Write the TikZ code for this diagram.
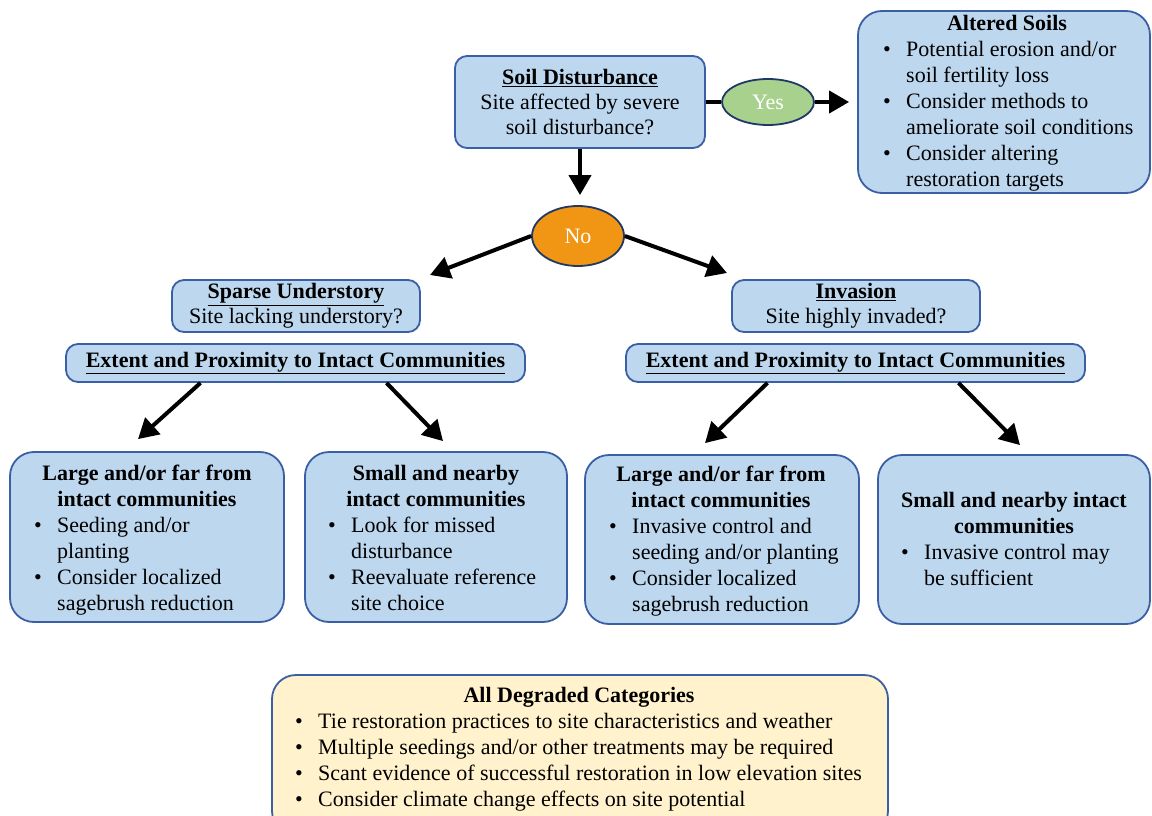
\documentclass[tikz,border=0pt]{standalone}
\usepackage{fontspec}
\setmainfont{Liberation Serif}
\usetikzlibrary{shapes.geometric,arrows.meta,calc}
\definecolor{bfill}{RGB}{189,215,238}
\definecolor{bdraw}{RGB}{58,95,165}
\definecolor{yfill}{RGB}{255,242,204}
\definecolor{gfill}{RGB}{169,209,142}
\definecolor{ofill}{RGB}{240,150,20}
\definecolor{edraw}{RGB}{31,56,100}
\newcommand\fsz{\fontsize{22}{25}\selectfont}
\newcommand\fsl{\fontsize{22}{26}\selectfont}
\newcommand\bt{\makebox[23pt][l]{•}}
\newcommand\ct{\hspace*{23pt}}
\tikzset{
  box/.style={draw=bdraw, fill=bfill, line width=1.8pt, rounded corners=12pt, inner sep=0pt, align=center, font=\fsz},
  bigbox/.style={box, rounded corners=24pt},
  oval/.style={ellipse, draw=edraw, line width=1.8pt, text=white, font=\fsz, inner sep=0pt},
  arr/.style={line width=4pt, -{Triangle[length=20pt,width=22pt]}},
  hd/.style={inner sep=0pt, anchor=base, font=\fsl\bfseries},
  bl/.style={inner sep=0pt, anchor=base west, font=\fsl},
}
\begin{document}
\begin{tikzpicture}[x=1pt,y=-1pt]
\useasboundingbox (0,0) rectangle (1152,816);
% top
\node[box, minimum width=250pt, minimum height=92pt] (sd) at (580,102)
  {\textbf{\underline{Soil Disturbance}}\\Site affected by severe\\soil disturbance?};
\node[oval, fill=gfill, minimum width=92pt, minimum height=46pt] (yes) at (768,102) {Yes};
\node[bigbox, minimum width=292pt, minimum height=182pt] (alt) at (1004,102) {};
\node[hd] (althd) at (1007,31) {Altered Soils};
\node[bl] (altbl) at (883,57) {\begin{tabular}[t]{@{}l@{}}
  \bt Potential erosion and/or\\
  \ct soil fertility loss\\
  \bt Consider methods to\\
  \ct ameliorate soil conditions\\
  \bt Consider altering\\
  \ct restoration targets\end{tabular}};
\draw[line width=4pt] (sd) -- (yes);
\draw[arr, shorten >=8pt] (yes) -- (alt);
\node[oval, fill=ofill, minimum width=92pt, minimum height=60pt] (no) at (578,236) {No};
\draw[arr, shorten >=10pt] (sd.south) -- (sd.south |- no.north);
% second level
\node[box, minimum width=248pt, minimum height=52pt] (su) at (296,306)
  {\textbf{\underline{Sparse Understory}}\\Site lacking understory?};
\node[box, minimum width=248pt, minimum height=52pt] (inv) at (856,306)
  {\textbf{\underline{Invasion}}\\Site highly invaded?};
\coordinate (t1) at (430,275);
\coordinate (t2) at (727,273);
\draw[arr] (no.west) -- (t1);
\draw[arr] (no.east) -- (t2);
\node[box, minimum width=459pt, minimum height=38pt] (ex1) at (295.5,363)
  {\textbf{\underline{Extent and Proximity to Intact Communities}}};
\node[box, minimum width=459pt, minimum height=38pt] (ex2) at (855.5,363)
  {\textbf{\underline{Extent and Proximity to Intact Communities}}};
% third level boxes
\node[bigbox, minimum width=274pt, minimum height=170pt] (l1) at (147,537) {};
\node[bigbox, minimum width=262pt, minimum height=170pt] (l2) at (436,537) {};
\node[bigbox, minimum width=274pt, minimum height=169pt] (r1) at (722,539.5) {};
\node[bigbox, minimum width=272pt, minimum height=169pt] (r2) at (1014,539.5) {};
\draw[arr] ($(ex1.south)+(-95,0)$) -- ($(l1.north)+(-9,-12)$);
\draw[arr] ($(ex1.south)+(91,0)$) -- ($(l2.north)+(7,-10)$);
\draw[arr] ($(ex2.south)+(-88,0)$) -- ($(r1.north)+(-17,-11)$);
\draw[arr] ($(ex2.south)+(103,0)$) -- ($(r2.north)+(6,-9)$);
% texts
\node[hd] (l1hd) at (147,480) {\begin{tabular}[t]{@{}c@{}}Large and/or far from\\intact communities\end{tabular}};
\node[bl] (l1bl) at (34,532) {\begin{tabular}[t]{@{}l@{}}
  \bt Seeding and/or\\ \ct planting\\
  \bt Consider localized\\ \ct sagebrush reduction\end{tabular}};
\node[hd] (l2hd) at (436,480) {\begin{tabular}[t]{@{}c@{}}Small and nearby\\intact communities\end{tabular}};
\node[bl] (l2bl) at (328,532) {\begin{tabular}[t]{@{}l@{}}
  \bt Look for missed\\ \ct disturbance\\
  \bt Reevaluate reference\\ \ct site choice\end{tabular}};
\node[hd] (r1hd) at (721,481) {\begin{tabular}[t]{@{}c@{}}Large and/or far from\\intact communities\end{tabular}};
\node[bl] (r1bl) at (609,533) {\begin{tabular}[t]{@{}l@{}}
  \bt Invasive control and\\ \ct seeding and/or planting\\
  \bt Consider localized\\ \ct sagebrush reduction\end{tabular}};
\node[hd] (r2hd) at (1014,507) {\begin{tabular}[t]{@{}c@{}}Small and nearby intact\\communities\end{tabular}};
\node[bl] (r2bl) at (901,559) {\begin{tabular}[t]{@{}l@{}}
  \bt Invasive control may\\ \ct be sufficient\end{tabular}};
% bottom
\node[box, fill=yfill, rounded corners=24pt, minimum width=616pt, minimum height=160pt] (all) at (580,755) {};
\node[hd] (allhd) at (579,702) {All Degraded Categories};
\node[bl] (allbl) at (295,728) {\begin{tabular}[t]{@{}l@{}}
  \bt Tie restoration practices to site characteristics and weather\\
  \bt Multiple seedings and/or other treatments may be required\\
  \bt Scant evidence of successful restoration in low elevation sites\\
  \bt Consider climate change effects on site potential\end{tabular}};
\end{tikzpicture}
\end{document}
